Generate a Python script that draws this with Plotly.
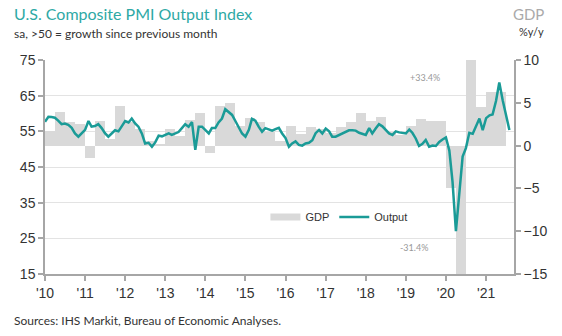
import plotly.graph_objects as go
import pandas as pd

# Monthly U.S. Composite PMI Output Index, Jan 2010 - Aug 2021
output = [
    57.7, 59.1, 59.0, 58.8, 58.0, 57.0, 57.2, 56.8, 56.0, 54.4, 53.5, 54.4,
    55.4, 57.9, 56.3, 56.5, 57.0, 55.9, 54.5, 53.5, 54.5, 55.3, 55.0, 56.3,
    57.9, 57.5, 58.6, 57.2, 56.3, 54.4, 51.6, 51.8, 50.7, 51.9, 53.8, 53.6,
    54.0, 54.4, 54.0, 54.4, 54.8, 55.9, 57.0, 56.3, 57.6, 49.8, 56.3, 56.3,
    55.4, 54.4, 55.9, 55.9, 57.5, 58.6, 61.2, 60.5, 59.6, 57.9, 56.3, 54.4,
    53.5, 55.4, 58.5, 58.0, 56.3, 54.9, 55.9, 55.6, 55.2, 55.6, 56.0, 54.4,
    53.1, 50.7, 51.6, 52.2, 51.2, 51.0, 51.6, 51.8, 52.5, 54.5, 55.4, 54.4,
    55.8, 55.0, 53.5, 53.5, 54.0, 54.4, 54.8, 55.3, 55.3, 55.2, 54.6, 54.2,
    54.0, 55.9, 54.4, 55.8, 57.0, 56.4, 55.4, 54.4, 54.0, 55.0, 54.7, 54.6,
    54.4, 55.5, 54.6, 53.0, 50.9, 51.5, 52.6, 50.7, 51.0, 50.9, 52.0, 52.7,
    53.3, 49.6, 40.9, 27.0, 37.0, 47.9, 50.3, 54.6, 54.3, 56.3, 58.6, 55.3,
    58.7, 59.5, 59.7, 63.5, 68.7, 63.7, 59.9, 55.4,
]

# Quarterly GDP growth (%), Q1 2010 - Q2 2021
gdp = [
    1.7, 3.9, 2.7, 2.5,
    -1.5, 2.9, 0.8, 4.6,
    2.7, 1.9, 0.5, 0.1,
    1.9, 1.1, 3.0, 3.8,
    -0.9, 4.6, 5.0, 2.3,
    3.2, 2.7, 1.6, 0.5,
    2.3, 1.3, 2.2, 1.9,
    1.5, 2.2, 2.7, 3.8,
    2.9, 3.4, 1.6, 1.2,
    2.3, 3.1, 2.9, 2.9,
    -5.0, -31.4, 33.4, 4.5,
    6.3, 6.3,
]

year_ticks = [str(y) + "-01-01" for y in range(2010, 2022)]
year_labels = ["'" + str(y)[2:] for y in range(2010, 2022)]

months = pd.date_range("2010-01-01", periods=len(output), freq="MS")
quarters = pd.date_range("2010-01-01", periods=len(gdp), freq="QS")
q_end = quarters + pd.DateOffset(months=3)
widths = [(e - s) / pd.Timedelta(milliseconds=1) for s, e in zip(quarters, q_end)]

TEAL = "#1a9b97"
BARC = "#d9d9d9"
AXC = "#a6a6a6"
TXT = "#333333"
FONT = "Liberation Sans, Arial, sans-serif"
SFONT = "Lato, Open Sans, sans-serif"

fig = go.Figure()
fig.add_trace(go.Bar(
    x=quarters, y=gdp, width=widths, offset=0,
    marker=dict(color=BARC, line=dict(width=0)),
    yaxis="y", showlegend=False, name="GDP",
))
fig.add_trace(go.Scatter(
    x=[None], y=[None], mode="lines", name="GDP",
    line=dict(color=BARC, width=7), yaxis="y2",
))
fig.add_trace(go.Scatter(
    x=months, y=output, mode="lines", name="Output",
    line=dict(color=TEAL, width=2.5), yaxis="y2",
))

fig.update_layout(
    width=562, height=336, autosize=False,
    margin=dict(l=45, r=48, t=60, b=62),
    paper_bgcolor="white", plot_bgcolor="white",
    bargap=0,
    font=dict(family=FONT, color=TXT, size=14),
    xaxis=dict(
        type="date", range=["2010-01-01", "2021-09-12"],
        tickvals=year_ticks, ticktext=year_labels,
        showgrid=False, showline=True, linecolor=AXC, linewidth=1.5,
        ticks="outside", ticklen=5, tickcolor=AXC, tickwidth=1.5,
        tickfont=dict(size=14, color=TXT), zeroline=False,
    ),
    yaxis=dict(
        side="right", range=[-15, 10], tickvals=[-15, -10, -5, 0, 5, 10],
        showgrid=False, zeroline=False,
        showline=True, linecolor=AXC, linewidth=1.5,
        ticks="outside", ticklen=5, tickcolor=AXC, tickwidth=1.5,
        tickfont=dict(size=14, color=TXT),
    ),
    yaxis2=dict(
        overlaying="y", side="left", range=[15, 75],
        tickvals=[15, 25, 35, 45, 55, 65, 75],
        showgrid=True, gridcolor="#e3e3e3", gridwidth=1.2, zeroline=False,
        showline=True, linecolor=AXC, linewidth=1.5,
        ticks="outside", ticklen=5, tickcolor=AXC, tickwidth=1.5,
        tickfont=dict(size=14, color=TXT),
    ),
    legend=dict(
        orientation="h", x=0.47, y=0.266, xanchor="left", yanchor="middle",
        bgcolor="rgba(0,0,0,0)", font=dict(size=11, color=TXT, family=FONT),
        itemwidth=30, traceorder="normal",
    ),
    annotations=[
        dict(text="U.S. Composite PMI Output Index", xref="paper", yref="paper",
             x=-0.0704, y=1.215, xanchor="left", yanchor="middle", showarrow=False,
             font=dict(family=SFONT, size=16, color="#2ea9a5")),
        dict(text="sa, >50 = growth since previous month", xref="paper", yref="paper",
             x=-0.0704, y=1.126, xanchor="left", yanchor="middle", showarrow=False,
             font=dict(family=SFONT, size=12, color="#333333")),
        dict(text="GDP", xref="paper", yref="paper",
             x=1.068, y=1.215, xanchor="right", yanchor="middle", showarrow=False,
             font=dict(family=SFONT, size=15, color="#aaaaaa")),
        dict(text="%y/y", xref="paper", yref="paper",
             x=1.068, y=1.131, xanchor="right", yanchor="middle", showarrow=False,
             font=dict(family=SFONT, size=11, color="#333333")),
        dict(text="Sources: IHS Markit, Bureau of Economic Analyses.", xref="paper", yref="paper",
             x=-0.0704, y=-0.215, xanchor="left", yanchor="middle", showarrow=False,
             font=dict(family=SFONT, size=12, color="#333333")),
        dict(text="+33.4%", xref="x", yref="y", x="2019-06-25", y=8.0,
             xanchor="center", yanchor="middle", showarrow=False,
             font=dict(family=SFONT, size=9, color="#999999")),
        dict(text="-31.4%", xref="x", yref="y", x="2019-03-15", y=-11.85,
             xanchor="center", yanchor="middle", showarrow=False,
             font=dict(family=SFONT, size=9, color="#999999")),
    ],
)

fig.write_html("out.html")
